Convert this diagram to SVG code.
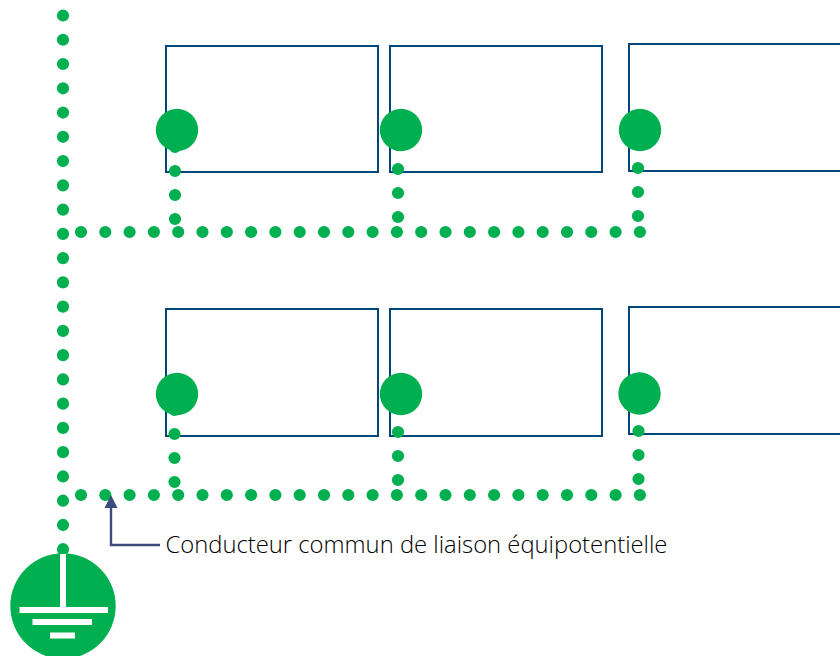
<svg xmlns="http://www.w3.org/2000/svg" width="840" height="656" viewBox="0 0 840 656">
<style>
.box{fill:#fff;stroke:#004676;stroke-width:2}
.term{fill:#00b050}
.dots{fill:none;stroke:#00b050;stroke-width:12.2;stroke-linecap:round}
.h{stroke-dasharray:0 24.3}
.v{stroke-dasharray:0 24.26}
.s{stroke-dasharray:0 24}
.lead{fill:none;stroke:#3a4d7c;stroke-width:2.4}
.bar{fill:#fff}
text{font-family:"Open Sans","Liberation Sans",sans-serif;font-size:23.8px;font-weight:300;fill:#000}
</style>
<defs>
<marker id="head" markerUnits="userSpaceOnUse" markerWidth="14" markerHeight="14" refX="1" refY="6.500" orient="auto" viewBox="0 0 14 13"><path d="M0 0L13 6.500L0 13Z" fill="#3a4d7c"/></marker>
</defs>
<g id="box-1-1"><rect class="box" x="166" y="46" width="212" height="126"/></g>
<g id="box-1-2"><rect class="box" x="390" y="46" width="212" height="126"/></g>
<g id="box-1-3"><rect class="box" x="629" y="44" width="213" height="127"/></g>
<g id="box-2-1"><rect class="box" x="166" y="309" width="212" height="127"/></g>
<g id="box-2-2"><rect class="box" x="390" y="309" width="212" height="127"/></g>
<g id="box-2-3"><rect class="box" x="629" y="307" width="213" height="127"/></g>
<g id="connectors">
<path class="dots v" d="M63 15.500V550"/>
<path class="dots h" d="M81 232H641"/>
<path class="dots h" d="M81 495H641"/>
<path class="dots s" d="M175 147V220"/>
<path class="dots s" d="M398 145V218"/>
<path class="dots s" d="M638 144V217"/>
<path class="dots s" d="M174.500 410V483"/>
<path class="dots s" d="M398 408V481"/>
<path class="dots s" d="M638.500 407V480"/>
<path class="lead" marker-end="url(#head)" d="M160 545H111V507"/>
</g>
<g id="term-1-1"><circle class="term" cx="177" cy="130" r="21.200"/></g>
<g id="term-1-2"><circle class="term" cx="401" cy="130" r="21.200"/></g>
<g id="term-1-3"><circle class="term" cx="640" cy="130" r="21.200"/></g>
<g id="term-2-1"><circle class="term" cx="177" cy="394" r="21.200"/></g>
<g id="term-2-2"><circle class="term" cx="401" cy="394" r="21.200"/></g>
<g id="term-2-3"><circle class="term" cx="639.500" cy="393.500" r="21.200"/></g>
<g id="earth">
<circle class="term" cx="63" cy="606" r="52.700"/>
<rect class="bar" x="60" y="554" width="6" height="54"/>
<rect class="bar" x="19.500" y="607" width="88.500" height="6"/>
<rect class="bar" x="32.500" y="619" width="59.500" height="6"/>
<rect class="bar" x="50" y="632.500" width="25" height="6"/>
</g>
<g id="label"><text x="165.500" y="553">Conducteur commun de liaison équipotentielle</text></g>
</svg>
